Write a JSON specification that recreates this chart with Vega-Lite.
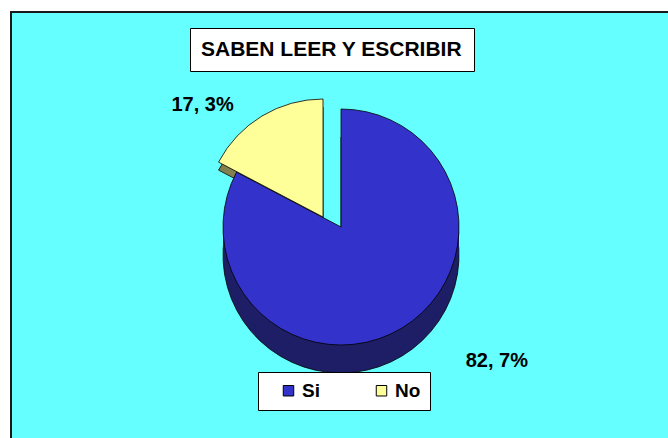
{
  "$schema": "https://vega.github.io/schema/vega-lite/v6.json",
  "width": 660,
  "height": 430,
  "autosize": "none",
  "padding": {"left": 11, "top": 12, "right": 0, "bottom": 0},
  "background": "#ffffff",
  "view": {"fill": "#66FFFF", "stroke": "#1a1a1a", "strokeWidth": 2},
  "data": {
    "values": [
      {"respuesta": "Si", "porcentaje": 82.7, "etiqueta": "82, 7%"},
      {"respuesta": "No", "porcentaje": 17.3, "etiqueta": "17, 3%"}
    ]
  },
  "encoding": {
    "theta": {"field": "porcentaje", "type": "quantitative", "stack": true},
    "order": {"field": "respuesta", "sort": "descending"}
  },
  "layer": [
    {
      "mark": {"type": "arc", "radius": 118, "yOffset": 28, "stroke": "#000000", "strokeWidth": 0.8},
      "encoding": {
        "fill": {"condition": {"test": "datum.respuesta === 'Si'", "value": "#1E1E66"}, "value": "#808050"},
        "opacity": {"condition": {"test": "datum.respuesta === 'Si'", "value": 1}, "value": 0}
      }
    },
    {
      "mark": {"type": "arc", "radius": 118, "yOffset": 19},
      "encoding": {
        "fill": {"value": "#1E1E66"},
        "opacity": {"condition": {"test": "datum.respuesta === 'Si'", "value": 1}, "value": 0}
      }
    },
    {
      "mark": {"type": "arc", "radius": 118, "yOffset": 10},
      "encoding": {
        "fill": {"value": "#1E1E66"},
        "opacity": {"condition": {"test": "datum.respuesta === 'Si'", "value": 1}, "value": 0}
      }
    },
    {
      "mark": {"type": "arc", "radius": 118, "xOffset": -18, "yOffset": -2, "stroke": "#000000", "strokeWidth": 0.8},
      "encoding": {
        "fill": {"value": "#808050"},
        "opacity": {"condition": {"test": "datum.respuesta === 'No'", "value": 1}, "value": 0}
      }
    },
    {
      "mark": {"type": "arc", "radius": 118, "stroke": "#000000", "strokeWidth": 0.8},
      "encoding": {
        "color": {
          "field": "respuesta",
          "type": "nominal",
          "scale": {"domain": ["Si", "No"], "range": ["#3333CC", "#FFFF99"]},
          "legend": {
            "title": null,
            "orient": "none",
            "direction": "horizontal",
            "legendX": 247,
            "legendY": 360,
            "fillColor": "#ffffff",
            "strokeColor": "#000000",
            "padding": 9,
            "symbolType": "square",
            "symbolSize": 110,
            "symbolStrokeColor": "#000000",
            "symbolStrokeWidth": 1,
            "symbolOpacity": 1,
            "labelFont": "Liberation Sans",
            "labelFontSize": 19,
            "labelFontWeight": "bold",
            "labelColor": "#000000",
            "columnPadding": 40,
            "symbolOffset": 12
          }
        },
        "opacity": {"condition": {"test": "datum.respuesta === 'Si'", "value": 1}, "value": 0}
      }
    },
    {
      "mark": {"type": "arc", "radius": 118, "xOffset": -18, "yOffset": -10, "stroke": "#000000", "strokeWidth": 0.8},
      "encoding": {
        "fill": {"value": "#FFFF99"},
        "opacity": {"condition": {"test": "datum.respuesta === 'No'", "value": 1}, "value": 0}
      }
    },
    {
      "mark": {"type": "text", "radius": 142, "dx": -65, "font": "Liberation Sans", "fontSize": 20, "fontWeight": "bold", "color": "#000000"},
      "encoding": {
        "text": {"condition": {"test": "datum.respuesta === 'No'", "field": "etiqueta"}, "value": ""},
        "strokeWidth": {
          "field": "porcentaje",
          "type": "quantitative",
          "scale": {"range": [0, 0]},
          "legend": {
            "title": "\u00a0\u00a0\u00a0\u00a0SABEN LEER Y ESCRIBIR\u00a0\u00a0\u00a0\u00a0",
            "values": [],
            "orient": "none",
            "legendX": 179,
            "legendY": 16,
            "fillColor": "#ffffff",
            "strokeColor": "#000000",
            "padding": 11,
            "titleFont": "Liberation Sans",
            "titleFontSize": 21,
            "titleFontWeight": "bold",
            "titleColor": "#000000",
            "titlePadding": 0,
            "titleLimit": 500
          }
        }
      }
    },
    {
      "mark": {"type": "text", "radius": 162, "dx": 72, "dy": -5, "font": "Liberation Sans", "fontSize": 20, "fontWeight": "bold", "color": "#000000"},
      "encoding": {
        "text": {"condition": {"test": "datum.respuesta === 'Si'", "field": "etiqueta"}, "value": ""}
      }
    }
  ]
}
